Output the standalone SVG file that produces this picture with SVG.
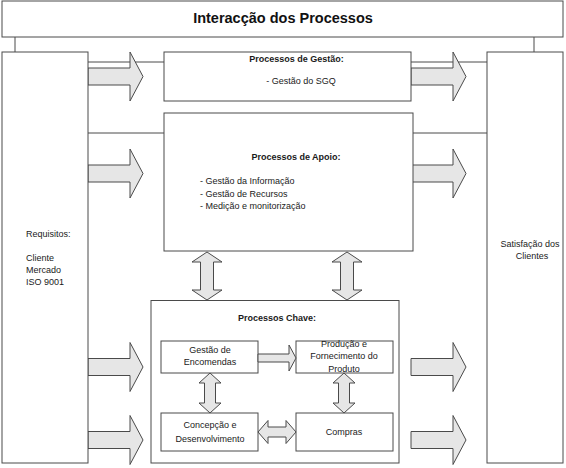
<svg xmlns="http://www.w3.org/2000/svg" width="566" height="468" viewBox="0 0 566 468">
  <style>
    .box { fill: #ffffff; stroke: #4a4a4a; stroke-width: 1; }
    .line { fill: none; stroke: #4a4a4a; stroke-width: 1; }
    .arrow { fill: #e6e6e6; stroke: #4a4a4a; stroke-width: 1; stroke-linejoin: miter; }
    text { font-family: "Liberation Sans", Arial, sans-serif; fill: #1a1a1a; font-size: 9px; }
    .title { font-size: 14.5px; font-weight: bold; fill: #111; }
    .bold { font-weight: bold; }
    .mid { text-anchor: middle; }
  </style>
  <defs>
    <path id="blockArrow" d="M0,-8.5 L42,-8.5 L42,-24.5 L55,0 L42,24.5 L42,8.5 L0,8.5 Z"/>
  </defs>
  <rect width="566" height="468" fill="#ffffff"/>

  <g id="title">
    <rect class="box" x="2" y="1" width="561" height="36"/>
    <text class="title mid" x="283" y="23">Interacção dos Processos</text>
  </g>

  <g id="connectors">
    <line class="line" x1="15" y1="37" x2="15" y2="52"/>
    <line class="line" x1="534" y1="37" x2="534" y2="52"/>
    <line class="line" x1="88" y1="62" x2="164" y2="62"/>
    <line class="line" x1="411" y1="62" x2="487" y2="62"/>
    <line class="line" x1="88" y1="133" x2="164" y2="133"/>
    <line class="line" x1="413" y1="133" x2="487" y2="133"/>
    <use href="#blockArrow" class="arrow" x="88" y="76.5"/>
    <use href="#blockArrow" class="arrow" x="411" y="76.5"/>
    <use href="#blockArrow" class="arrow" x="88" y="173.5"/>
    <use href="#blockArrow" class="arrow" x="411" y="173.5"/>
    <use href="#blockArrow" class="arrow" x="88" y="367"/>
    <use href="#blockArrow" class="arrow" x="411" y="367"/>
    <use href="#blockArrow" class="arrow" x="88" y="440"/>
    <use href="#blockArrow" class="arrow" x="411" y="440"/>
    <path class="arrow" d="M207,252 L222,262 L213.5,262 L213.5,290 L222,290 L207,300 L192,290 L200.5,290 L200.5,262 L192,262 Z"/>
    <path class="arrow" d="M347,252 L362,262 L353.5,262 L353.5,290 L362,290 L347,300 L332,290 L340.5,290 L340.5,262 L332,262 Z"/>
  </g>

  <g id="requisitos">
    <rect class="box" x="2" y="52" width="86" height="411"/>
    <text x="26" y="237">Requisitos:</text>
    <text x="26" y="261">Cliente</text>
    <text x="26" y="273">Mercado</text>
    <text x="26" y="285">ISO 9001</text>
  </g>

  <g id="satisfacao">
    <rect class="box" x="487" y="52" width="76" height="411"/>
    <text class="mid" x="530" y="247">Satisfação dos</text>
    <text class="mid" x="532" y="259">Clientes</text>
  </g>

  <g id="gestao">
    <rect class="box" x="164" y="52" width="247" height="49"/>
    <text class="bold mid" x="296.5" y="62">Processos de Gestão:</text>
    <text class="mid" x="301" y="84">- Gestão do SGQ</text>
  </g>

  <g id="apoio">
    <rect class="box" x="164" y="113" width="249" height="138"/>
    <text class="bold mid" x="296" y="160">Processos de Apoio:</text>
    <text x="200" y="184">- Gestão da Informação</text>
    <text x="200" y="197">- Gestão de Recursos</text>
    <text x="200" y="209">- Medição e monitorização</text>
  </g>

  <g id="chave">
    <rect class="box" x="151" y="300.5" width="248" height="162.5"/>
    <text class="bold mid" x="277" y="321">Processos Chave:</text>
  </g>

  <g id="encomendas">
    <rect class="box" x="161" y="341" width="97" height="32"/>
    <text class="mid" x="210" y="353">Gestão de</text>
    <text class="mid" x="210" y="365">Encomendas</text>
  </g>

  <g id="producao">
    <rect class="box" x="296" y="341" width="97" height="32"/>
    <text class="mid" x="344" y="347">Produção e</text>
    <text class="mid" x="344" y="359">Fornecimento do</text>
    <text class="mid" x="344" y="372">Produto</text>
  </g>

  <g id="concepcao">
    <rect class="box" x="161" y="413" width="97" height="38"/>
    <text class="mid" x="210" y="428">Concepção e</text>
    <text class="mid" x="210" y="442">Desenvolvimento</text>
  </g>

  <g id="compras">
    <rect class="box" x="296" y="413" width="97" height="38"/>
    <text class="mid" x="344" y="435">Compras</text>
  </g>

  <g id="inner-connectors">
    <path class="arrow" d="M258,354 L289,354 L289,345 L296,358 L289,371 L289,362 L258,362 Z"/>
    <path class="arrow" d="M210,373 L221,383 L215.5,383 L215.5,403 L221,403 L210,413 L199,403 L204.5,403 L204.5,383 L199,383 Z"/>
    <path class="arrow" d="M344,373 L355,383 L349.5,383 L349.5,403 L355,403 L344,413 L333,403 L338.5,403 L338.5,383 L333,383 Z"/>
    <path class="arrow" d="M258,432 L268,420.5 L268,427 L286,427 L286,420.5 L296,432 L286,443.5 L286,437 L268,437 L268,443.5 Z"/>
  </g>
</svg>
